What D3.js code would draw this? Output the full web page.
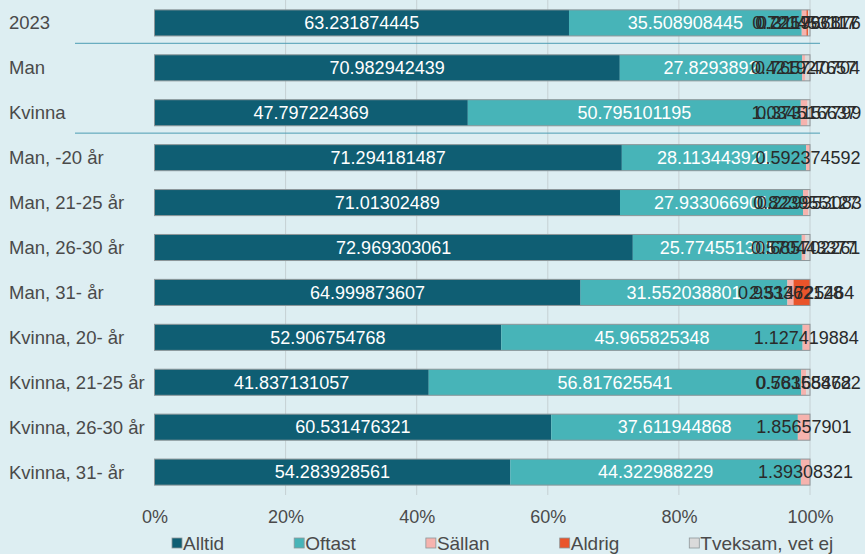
<!DOCTYPE html>
<html>
<head>
<meta charset="utf-8">
<script src="https://d3js.org/d3.v7.min.js"></script>
<style>
  body { margin: 0; background: #ddeef2; }
  svg { display: block; font-family: "Liberation Sans", Arial, sans-serif; }
</style>
</head>
<body>
<div id="chart"></div>
<script>
// data
const categories = ["2023", "Man", "Kvinna", "Man, -20 år", "Man, 21-25 år", "Man, 26-30 år", "Man, 31- år",
  "Kvinna, 20- år", "Kvinna, 21-25 år", "Kvinna, 26-30 år", "Kvinna, 31- år"];
const alltid  = [63.231874445, 70.982942439, 47.797224369, 71.294181487, 71.01302489, 72.969303061, 64.999873607,
  52.906754768, 41.837131057, 60.531476321, 54.283928561];
const oftast  = [35.508908445, 27.8293892, 50.795101195, 28.113443921, 27.933066901, 25.774551301, 31.552038801,
  45.965825348, 56.817625541, 37.611944868, 44.322988229];
const sallan  = [0.721453117, 0.421927657, 1.034516637, 0.592374592, 0.823955127, 0.570443377, 0.933362128,
  1.127419884, 0.78165462, 1.85657901, 1.39308321];
const aldrig  = [0.225996117, 0, 0, 0, 0, 0, 2.514725464, 0, 0, 0, 0];
const tveksam = [0.311767876, 0.765740704, 0.373157799, 0, 0.229953083, 0.685702261, 0, 0, 0.563588782, 0, 0];
const seriesNames = ["Alltid", "Oftast", "Sällan", "Aldrig", "Tveksam, vet ej"];
const tickValues = [0, 20, 40, 60, 80, 100];

const colors = ["#0f5e73", "#47b4b8", "#f6b3ae", "#e9542b", "#dadada"];
const labelColors = ["#ffffff", "#ffffff", "#2a2a2a", "#2a2a2a", "#2a2a2a"];

const W = 865, H = 554;
const svg = d3.select("#chart").append("svg").attr("width", W).attr("height", H);

const x = d3.scaleLinear().domain([0, 100]).range([154.5, 810]);
const y = d3.scaleBand().domain(categories).range([0, 495]).paddingInner(0.42).paddingOuter(0.22);

// gridlines
svg.append("g").selectAll("line").data(tickValues.slice(1)).join("line")
  .attr("x1", d => x(d)).attr("x2", d => x(d))
  .attr("y1", 0).attr("y2", 495)
  .attr("stroke", "#c5d0d3").attr("stroke-width", 1);

// group separators
svg.append("g").selectAll("line").data(["Man", "Man, -20 år"]).join("line")
  .attr("x1", 75).attr("x2", 820)
  .attr("y1", d => y(d) - 11.5)
  .attr("y2", d => y(d) - 11.5)
  .attr("stroke", "#4d9db3").attr("stroke-width", 1);

// stacked table
const rows = categories.map((c, i) => ({
  cat: c, Alltid: alltid[i], Oftast: oftast[i], "Sällan": sallan[i], Aldrig: aldrig[i], "Tveksam, vet ej": tveksam[i]
}));
const stack = d3.stack().keys(seriesNames)(rows);

const layers = svg.append("g").selectAll("g").data(stack).join("g")
  .attr("fill", (d, i) => colors[i]);
layers.selectAll("rect").data(d => d).join("rect")
  .attr("x", d => x(d[0]))
  .attr("y", d => y(d.data.cat))
  .attr("width", d => Math.max(0, x(d[1]) - x(d[0])))
  .attr("height", y.bandwidth());

// bar outline
svg.append("g").selectAll("rect").data(categories).join("rect")
  .attr("x", x(0)).attr("y", d => y(d))
  .attr("width", x(100) - x(0)).attr("height", y.bandwidth())
  .attr("fill", "none").attr("stroke", "#8d9699").attr("stroke-width", 1);

// value labels
stack.forEach((layer, i) => {
  svg.append("g").selectAll("text").data(layer.filter(d => d[1] - d[0] > 0)).join("text")
    .attr("x", d => x((d[0] + d[1]) / 2))
    .attr("y", d => y(d.data.cat) + y.bandwidth() / 2)
    .attr("dy", "0.35em")
    .attr("text-anchor", "middle")
    .attr("font-size", 18)
    .attr("fill", labelColors[i])
    .text(d => String(d.data[seriesNames[i]]));
});

// category labels
svg.append("g").selectAll("text").data(categories).join("text")
  .attr("x", 9)
  .attr("y", d => y(d) + y.bandwidth() / 2)
  .attr("dy", "0.35em")
  .attr("font-size", 18.5)
  .attr("fill", "#4a4a4a")
  .text(d => d);

// x axis
const xAxis = svg.append("g").attr("transform", "translate(0,507)")
  .call(d3.axisBottom(x).tickValues(tickValues).tickFormat(d => d + "%").tickSize(0));
xAxis.select(".domain").remove();
xAxis.selectAll("text").attr("font-size", 18).attr("fill", "#4a4a4a")
  .attr("font-family", "Liberation Sans, Arial, sans-serif");

// legend
const legend = svg.append("g").attr("transform", "translate(0,543)");
let lx = 172;
seriesNames.forEach((name, i) => {
  const g = legend.append("g").attr("transform", "translate(" + lx + ",0)");
  g.append("rect").attr("x", 0).attr("y", -5).attr("width", 10).attr("height", 10)
    .attr("fill", colors[i]).attr("stroke", "#8d9699").attr("stroke-width", 0.8);
  const t = g.append("text").attr("x", 11).attr("dy", "0.35em")
    .attr("font-size", 19).attr("fill", "#4a4a4a").text(name);
  lx += 11 + t.node().getComputedTextLength() + 70;
});
</script>
</body>
</html>
